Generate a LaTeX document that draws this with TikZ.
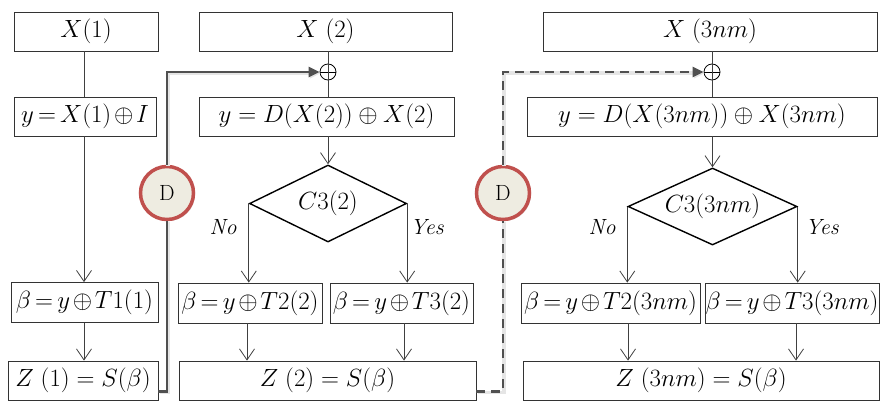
\documentclass[tikz,border=0pt]{standalone}
\usepackage{tikz}
\usetikzlibrary{shapes.geometric, arrows.meta, positioning, calc, shadows}
\definecolor{dred}{RGB}{192,80,77}
\definecolor{dbeige}{RGB}{238,236,225}
\definecolor{linkgray}{RGB}{80,80,80}

\begin{document}
\begin{tikzpicture}[x=1pt, y=-1pt,
  box/.style={draw=black!80, line width=0.8pt, inner sep=0pt, minimum height=39pt,
    font=\fontsize{23}{27}\selectfont},
  betabox/.style={box, minimum height=40pt,
    execute at begin node={\thickmuskip=3mu\relax\medmuskip=2mu\relax}},
  cond/.style={diamond, aspect=2.2, draw=black, line width=1.4pt, inner sep=0pt, minimum height=77pt,
    font=\fontsize{23}{27}\selectfont},
  xorsign/.style={circle, draw=black, line width=0.8pt, minimum size=16pt, inner sep=0pt,
    path picture={\draw[line width=0.8pt] (path picture bounding box.west) -- (path picture bounding box.east);}},
  delay/.style={circle, draw=dred, line width=3.5pt, fill=dbeige, minimum size=53pt, inner sep=0pt,
    font=\fontsize{22}{26}\selectfont,
    drop shadow={opacity=0.25, shadow xshift=1.5pt, shadow yshift=-1.5pt}},
  branch/.style={font=\fontsize{22}{26}\selectfont\itshape},
  flow/.style={draw=black!75, line width=0.8pt, -{Straight Barb[length=11pt,width=15pt,line width=0.8pt]}},
  plain/.style={draw=black!75, line width=0.8pt},
  link/.style={draw=linkgray, line width=2.4pt, -{Triangle[length=11pt,width=10pt]},
    preaction={draw=black!10, line width=3.5pt, transform canvas={shift={(1.2pt,-1.2pt)}}}}
]
  \useasboundingbox (0,0) rectangle (882,407);

  % Column 1
  \node[box, minimum width=144pt] (x1) at (86,31.5)  {$X(1)$};
  \node[betabox, minimum width=142pt, minimum height=39pt] (y1) at (85,116.5) {$y=X(1)\oplus I$};
  \node[betabox, minimum width=147pt] (b1) at (84.5,302.5) {$\beta=y\oplus T1(1)$};
  \node[box, minimum width=150pt] (z1) at (83,380.5) {$Z\;(1)=S(\beta)$};

  \draw[plain] (x1.south -| 84,0) -- (y1.north -| 84,0);
  \draw[flow]  (y1.south -| 84,0) -- (b1.north -| 84,0);
  \draw[flow]  (b1.south -| 84,0) -- (z1.north -| 84,0);

  % Column 2
  \node[box, minimum width=253pt] (x2) at (325.5,31.5) {$X\;(2)$};
  \node[xorsign] (p2) at (328,72) {};
  \node[box, minimum width=255pt] (y2) at (326.5,116.5) {$y=D(X(2))\oplus X(2)$};
  \node[cond, minimum width=157pt] (d2) at (328,203.5) {$C3(2)$};
  \node[betabox, minimum width=144pt] (b2) at (250,303)   {$\beta=y\oplus T2(2)$};
  \node[betabox, minimum width=143pt] (c2) at (401.5,303) {$\beta=y\oplus T3(2)$};
  \node[box, minimum width=297pt] (z2) at (327.5,380.5) {$Z\;(2)=S(\beta)$};
  \node[branch] (no2)  at (223,227) {No};
  \node[branch] (yes2) at (427,227) {Yes};

  \draw[plain] (p2 |- x2.south) -- (p2 |- y2.north);
  \draw[flow]  (d2.north |- y2.south) -- (d2.north);
  \draw[flow]  (d2.west) -- (d2.west |- b2.north);
  \draw[flow]  (d2.east) -- (d2.east |- c2.north);
  \draw[flow]  (b2.south -| 247,0) -- (z2.north -| 247,0);
  \draw[flow]  (c2.south -| 404,0) -- (z2.north -| 404,0);

  % Column 3
  \node[box, minimum width=334pt] (x3) at (710,31.5) {$X\;(3nm)$};
  \node[xorsign] (p3) at (712,72) {};
  \node[box, minimum width=350pt] (y3) at (702,116.5) {$y=D(X(3nm))\oplus X(3nm)$};
  \node[cond, minimum width=169pt] (d3) at (712.5,206.5) {$C3(3nm)$};
  \node[betabox, minimum width=179pt] (b3) at (610.5,303) {$\beta=y\oplus T2(3nm)$};
  \node[betabox, minimum width=174pt] (c3) at (792,303)   {$\beta=y\oplus T3(3nm)$};
  \node[box, minimum width=356pt] (z3) at (701,380.5) {$Z\;(3nm)=S(\beta)$};
  \node[branch] (no3)  at (602,227) {No};
  \node[branch] (yes3) at (822,227) {Yes};

  \draw[plain] (p3 |- x3.south) -- (p3 |- y3.north);
  \draw[flow]  (d3.north |- y3.south) -- (d3.north);
  \draw[flow]  (d3.west) -- (d3.west |- b3.north);
  \draw[flow]  (d3.east) -- (d3.east |- c3.north);
  \draw[flow]  (b3.south -| 628,0) -- (z3.north -| 628,0);
  \draw[flow]  (c3.south -| 796,0) -- (z3.north -| 796,0);

  % Delay blocks between columns
  \node[delay] (dl1) at (167,193) {D};
  \node[delay] (dl2) at (503,193) {D};

  \draw[link, -] ([yshift=9pt]z1.south east) -| (dl1.south);
  \draw[link] (dl1.north) |- (p2.west);
  \draw[link, -, dash pattern=on 9pt off 6pt] ([yshift=9pt]z2.south east) -| (dl2.south);
  \draw[link, dash pattern=on 9pt off 6pt] (dl2.north) |- (p3.west);
\end{tikzpicture}
\end{document}
